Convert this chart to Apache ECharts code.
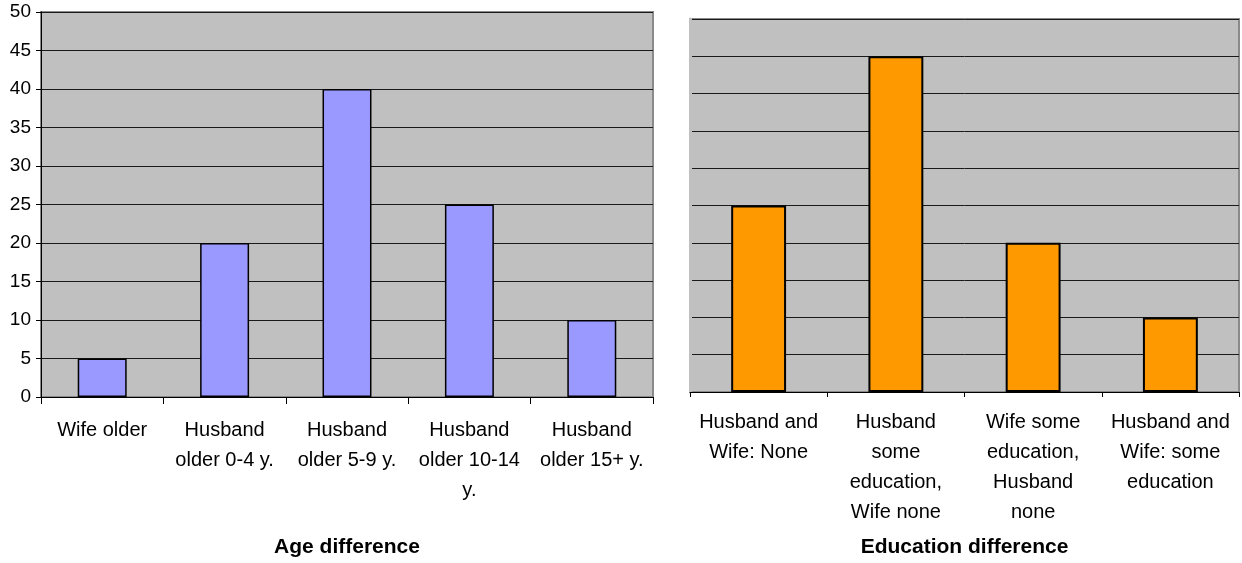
<!DOCTYPE html>
<html>
<head>
<meta charset="utf-8">
<script src="https://cdn.jsdelivr.net/npm/echarts@6/dist/echarts.min.js"></script>
<style>
html,body{margin:0;padding:0;background:#fff;}
#c{width:1242px;height:563px;}
</style>
</head>
<body>
<div id="c"></div>
<script>
// ---- data ----
const ageCategories = ["Wife older", "Husband\nolder 0-4 y.", "Husband\nolder 5-9 y.", "Husband\nolder 10-14\ny.", "Husband\nolder 15+ y."];
const ageValues = [5, 20, 40, 25, 10];
const eduCategories = ["Husband and\nWife: None", "Husband\nsome\neducation,\nWife none", "Wife some\neducation,\nHusband\nnone", "Husband and\nWife: some\neducation"];
const eduValues = [25, 45, 20, 10];
const ageTitle = "Age difference";
const eduTitle = "Education difference";

const FONT = "'Liberation Sans', Arial, sans-serif";
const chart = echarts.init(document.getElementById('c'), null, {renderer: 'canvas'});

function grid(left, top, width, height) {
  return {left, top, width, height, show: true, backgroundColor: '#c0c0c0',
          borderColor: '#8a8a8a', borderWidth: 2, containLabel: false};
}

chart.setOption({
  animation: false,
  backgroundColor: '#ffffff',
  textStyle: {fontFamily: FONT},
  grid: [grid(41, 12, 612, 387), grid(690, 19, 549, 376)],
  xAxis: [
    {gridIndex: 0, type: 'category', data: ageCategories,
     axisLine: {lineStyle: {color: '#000', width: 1}},
     axisTick: {show: true, length: 7, lineStyle: {color: '#000'}},
     axisLabel: {color: '#000', fontSize: 20, lineHeight: 30, margin: 18, interval: 0, fontFamily: FONT},
     name: ageTitle, nameLocation: 'middle', nameGap: 140,
     nameTextStyle: {color: '#000', fontSize: 21, fontWeight: 'bold', fontFamily: FONT}},
    {gridIndex: 1, type: 'category', data: eduCategories,
     axisLine: {lineStyle: {color: '#000', width: 1}},
     axisTick: {show: true, length: 5, lineStyle: {color: '#000'}},
     axisLabel: {color: '#000', fontSize: 20, lineHeight: 30, margin: 15, interval: 0, fontFamily: FONT},
     name: eduTitle, nameLocation: 'middle', nameGap: 145,
     nameTextStyle: {color: '#000', fontSize: 21, fontWeight: 'bold', fontFamily: FONT}}
  ],
  yAxis: [
    {gridIndex: 0, type: 'value', min: 0, max: 50, interval: 5,
     axisLine: {show: true, lineStyle: {color: '#000', width: 1}},
     axisTick: {show: true, length: 5, lineStyle: {color: '#000'}},
     axisLabel: {color: '#000', fontSize: 19, margin: 10, fontFamily: FONT},
     splitLine: {show: true, lineStyle: {color: '#1a1a1a', width: 1}}},
    {gridIndex: 1, type: 'value', min: 0, max: 50, interval: 5,
     axisLine: {show: true, lineStyle: {color: '#c0c0c0', width: 3}},
     axisTick: {show: false},
     axisLabel: {show: false},
     splitLine: {show: true, lineStyle: {color: '#1a1a1a', width: 1}}}
  ],
  series: [
    {type: 'bar', xAxisIndex: 0, yAxisIndex: 0, data: ageValues,
     barCategoryGap: '60%',
     itemStyle: {color: '#9999ff', borderColor: '#000', borderWidth: 1.5}},
    {type: 'bar', xAxisIndex: 1, yAxisIndex: 1, data: eduValues,
     barCategoryGap: '60%',
     itemStyle: {color: '#ff9900', borderColor: '#000', borderWidth: 2}}
  ]
});
</script>
</body>
</html>
